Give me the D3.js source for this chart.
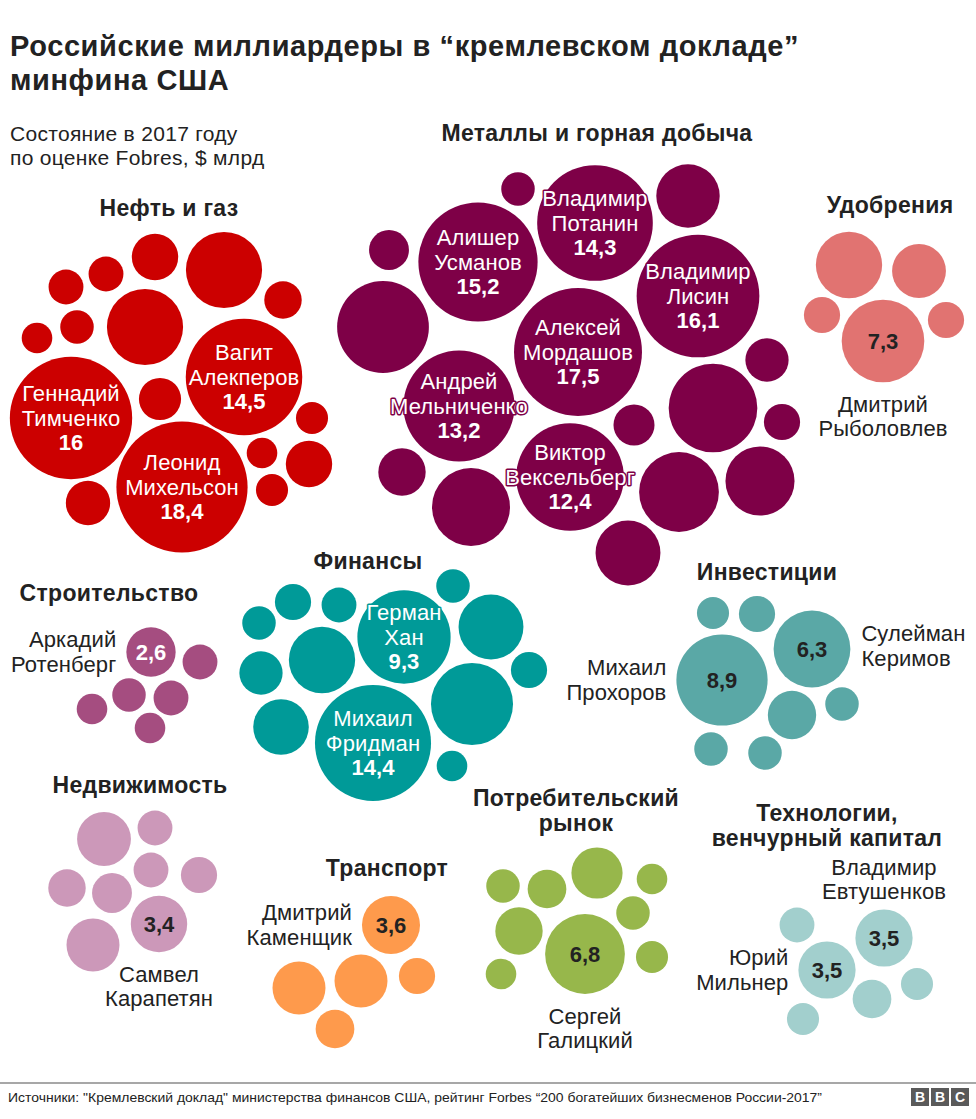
<!DOCTYPE html>
<html><head><meta charset="utf-8">
<script src="https://cdn.jsdelivr.net/npm/d3@7"></script>
<style>
body{margin:0;background:#fff;}
svg{display:block;font-family:"Liberation Sans",Arial,Helvetica,sans-serif;}
</style></head><body>
<svg id="chart" width="976" height="1119"></svg>
<script>
// ---------------- DATA ----------------
const titleLines = ["Российские миллиардеры в “кремлевском докладе”", "минфина США"];
const subtitleLines = ["Состояние в 2017 году", "по оценке Fobres, $ млрд"];
const sourceText = 'Источники: "Кремлевский доклад" министерства финансов США, рейтинг Forbes “200 богатейших бизнесменов России-2017”';

const sectorTitles = [
  ["Нефть и газ"], ["Металлы и горная добыча"], ["Удобрения"], ["Строительство"],
  ["Финансы"], ["Инвестиции"], ["Недвижимость"], ["Транспорт"],
  ["Потребительский", "рынок"], ["Технологии,", "венчурный капитал"]
];

// net worth, $ bn (unlabelled bubbles estimated from their size)
const oilGasNames = ["","","","","","","","","Вагит|Алекперов","Геннадий|Тимченко","","Леонид|Михельсон","","","","",""];
const oilGasWorth = [2.3, 6.2, 1.5, 1.3, 1.3, 1.2, 1.0, 6.2, 14.5, 16, 1.9, 18.4, 1.1, 1.0, 2.3, 1.1, 2.1];

const metalsNames = ["","Владимир|Потанин","","","Алишер|Усманов","","Владимир|Лисин","Алексей|Мордашов","Андрей|Мельниченко","","","","","","Виктор|Вексельберг","","","",""];
const metalsWorth = [1.2, 14.3, 4.3, 1.7, 15.2, 9.0, 16.1, 17.5, 13.2, 2.0, 8.4, 1.8, 1.4, 2.4, 12.4, 6.5, 6.8, 5.1, 4.5];

const fertilizerNames = ["","","","Дмитрий|Рыболовлев",""];
const fertilizerWorth = [4.7, 3.1, 1.4, 7.3, 1.4];

const constructionNames = ["Аркадий|Ротенберг","","","","",""];
const constructionWorth = [2.6, 1.3, 1.2, 1.3, 1.0, 1.0];

const financeNames = ["","","","","Герман|Хан","","","","","","","Михаил|Фридман",""];
const financeWorth = [1.2, 1.4, 1.3, 1.2, 9.3, 4.5, 4.7, 2.0, 1.4, 7.2, 3.3, 14.4, 1.0];

const investNames = ["","","Сулейман|Керимов","Михаил|Прохоров","","","",""];
const investWorth = [1.1, 1.4, 6.3, 8.9, 2.5, 1.2, 1.2, 1.2];

const realEstateNames = ["","","","","","","Самвел|Карапетян",""];
const realEstateWorth = [3.1, 1.3, 1.3, 1.4, 1.5, 1.7, 3.4, 3.0];

const transportNames = ["Дмитрий|Каменщик","","","",""];
const transportWorth = [3.6, 3.0, 3.0, 1.4, 1.6];

const consumerNames = ["","","","","","","Сергей|Галицкий","",""];
const consumerWorth = [1.2, 1.6, 2.8, 1.0, 1.2, 2.4, 6.8, 1.1, 1.0];

const techNames = ["","Владимир|Евтушенков","Юрий|Мильнер","","",""];
const techWorth = [1.3, 3.5, 3.5, 1.6, 1.1, 1.1];

// ---------------- LAYOUT & STYLE ----------------
// approximate anchor points for the hand-arranged clusters; final positions come from a force layout
const layout = [
  {names: oilGasNames, worth: oilGasWorth, color: "#cc0000", valueColor: "#fff", inside: true,
   title: [169, 208],
   hints: [[155,257],[224,270],[283,300],[106,274],[66,287],[77,327],[37,338],[145,327],[244,377],[71,418],[160,399],[182,487],[312,418],[262,453],[309,464],[272,490],[88,503]]},
  {names: metalsNames, worth: metalsWorth, color: "#7e0047", valueColor: "#fff", inside: true,
   title: [597, 133],
   hints: [[518,189],[595,223],[688,196],[389,250],[478,262],[383,327],[698,296],[578,352],[459,406],[767,360],[713,408],[634,425],[782,422],[402,472],[570,477],[471,507],[679,492],[760,481],[628,553]]},
  {names: fertilizerNames, worth: fertilizerWorth, color: "#e17371", valueColor: "#222", inside: false,
   title: [890, 205], sides: {3: "below"},
   hints: [[849,265],[919,271],[822,315],[883,341],[946,320]]},
  {names: constructionNames, worth: constructionWorth, color: "#a54d80", valueColor: "#fff", inside: false,
   title: [109, 593], sides: {0: "left"},
   hints: [[151,652],[200,662],[129,695],[171,698],[92,709],[150,728]]},
  {names: financeNames, worth: financeWorth, color: "#009a98", valueColor: "#fff", inside: true,
   title: [368, 561],
   hints: [[453,586],[293,602],[339,605],[259,623],[404,637],[491,627],[322,660],[261,673],[529,670],[472,704],[281,727],[373,743],[452,766]]},
  {names: investNames, worth: investWorth, color: "#5aa8a6", valueColor: "#222", inside: false,
   title: [767, 572], sides: {2: "right", 3: "left"},
   hints: [[713,613],[757,614],[812,649],[722,680],[792,715],[842,704],[711,749],[765,753]]},
  {names: realEstateNames, worth: realEstateWorth, color: "#cc98b9", valueColor: "#222", inside: false,
   title: [140, 785], sides: {6: "below"},
   hints: [[104,839],[155,828],[151,870],[199,875],[67,888],[112,893],[159,924],[93,945]]},
  {names: transportNames, worth: transportWorth, color: "#fe9a4c", valueColor: "#222", inside: false,
   title: [387, 868], sides: {0: "left"},
   hints: [[391,925],[299,988],[361,981],[417,976],[335,1029]]},
  {names: consumerNames, worth: consumerWorth, color: "#97b74b", valueColor: "#222", inside: false,
   title: [576, 798], sides: {6: "below"},
   hints: [[503,886],[547,889],[597,873],[652,879],[633,913],[519,931],[585,954],[652,957],[501,974]]},
  {names: techNames, worth: techWorth, color: "#a2cfcd", valueColor: "#222", inside: false,
   title: [827, 813], sides: {1: "above", 2: "left"},
   hints: [[797,925],[884,938],[827,970],[872,999],[917,984],[803,1019]]}
];

const ink = "#222";
const svg = d3.select("#chart");
const fmt = v => String(v).replace(".", ",");

// radius scale (area ~ net worth)
const allWorth = layout.flatMap(g => g.worth);
const rScale = d3.scaleSqrt().domain([0, d3.max(allWorth)]).range([0, 65.6]);

// nodes
const nodes = [];
layout.forEach((g, gi) => {
  g.worth.forEach((v, i) => {
    nodes.push({g: gi, i, value: v, name: g.names[i], r: rScale(v),
      hx: g.hints[i][0], hy: g.hints[i][1], x: g.hints[i][0], y: g.hints[i][1]});
  });
});

const sim = d3.forceSimulation(nodes)
  .force("x", d3.forceX(d => d.hx).strength(0.6))
  .force("y", d3.forceY(d => d.hy).strength(0.6))
  .force("collide", d3.forceCollide(d => d.r + 1.2).iterations(4))
  .stop();
for (let k = 0; k < 200; k++) sim.tick();

// ---------------- HEADER ----------------
svg.append("g").selectAll("text").data(titleLines).join("text")
  .attr("x", 10).attr("y", (d, i) => 56 + i * 34)
  .attr("font-size", 29).attr("letter-spacing", 0.6).attr("font-weight", "bold").attr("fill", ink).text(d => d);

svg.append("g").selectAll("text").data(subtitleLines).join("text")
  .attr("x", 10).attr("y", (d, i) => 141 + i * 24)
  .attr("font-size", 21).attr("letter-spacing", 0.3).attr("fill", ink).text(d => d);

// ---------------- SECTOR TITLES ----------------
layout.forEach((g, gi) => {
  svg.append("g").selectAll("text").data(sectorTitles[gi]).join("text")
    .attr("x", g.title[0]).attr("y", (d, i) => g.title[1] + i * 25)
    .attr("dy", "0.35em").attr("text-anchor", "middle")
    .attr("font-size", 23).attr("letter-spacing", 0.3).attr("font-weight", "bold").attr("fill", ink).text(d => d);
});

// ---------------- BUBBLES ----------------
svg.append("g").selectAll("circle").data(nodes).join("circle")
  .attr("cx", d => d.x).attr("cy", d => d.y).attr("r", d => d.r)
  .attr("fill", d => layout[d.g].color);

// ---------------- LABELS ----------------
const lh = 24.5;
const fs = 22;
const labelG = svg.append("g");
nodes.filter(d => d.name).forEach(d => {
  const g = layout[d.g];
  const lines = d.name.split("|");
  if (g.inside) {
    const all = lines.concat([fmt(d.value)]);
    const n = all.length;
    all.forEach((t, i) => {
      labelG.append("text")
        .attr("x", d.x).attr("y", d.y + (i - (n - 1) / 2) * lh).attr("dy", "0.35em")
        .attr("text-anchor", "middle").attr("font-size", fs).attr("letter-spacing", 0.1)
        .attr("font-weight", i === n - 1 ? "bold" : "normal")
        .attr("fill", "#fff").attr("stroke", g.color).attr("stroke-width", 3)
        .attr("stroke-linejoin", "round").attr("paint-order", "stroke")
        .text(t);
    });
  } else {
    labelG.append("text")
      .attr("x", d.x).attr("y", d.y).attr("dy", "0.35em")
      .attr("text-anchor", "middle").attr("font-size", fs).attr("font-weight", "bold")
      .attr("fill", g.valueColor).text(fmt(d.value));
    const side = g.sides[d.i];
    const n = lines.length;
    lines.forEach((t, i) => {
      let x, y, anchor;
      if (side === "left") { x = d.x - d.r - 10; y = d.y + (i - (n - 1) / 2) * lh; anchor = "end"; }
      else if (side === "right") { x = d.x + d.r + 11; y = d.y - 3 + (i - (n - 1) / 2) * lh; anchor = "start"; }
      else if (side === "below") { x = d.x; y = d.y + d.r + 22 + i * 24; anchor = "middle"; }
      else { x = d.x; y = d.y - d.r - 18 - (n - 1 - i) * 24; anchor = "middle"; }
      labelG.append("text").attr("x", x).attr("y", y).attr("dy", "0.35em")
        .attr("text-anchor", anchor).attr("font-size", fs).attr("letter-spacing", 0.1)
        .attr("fill", ink).text(t);
    });
  }
});

// ---------------- FOOTER ----------------
svg.append("line").attr("x1", 0).attr("x2", 976).attr("y1", 1083).attr("y2", 1083)
  .attr("stroke", "#8a8a8a").attr("stroke-width", 1.5);
svg.append("text").attr("x", 8).attr("y", 1102).attr("font-size", 13).attr("fill", ink)
  .attr("textLength", 814).attr("lengthAdjust", "spacingAndGlyphs").text(sourceText);
const bbc = svg.append("g");
["B", "B", "C"].forEach((ch, i) => {
  bbc.append("rect").attr("x", 911 + i * 20).attr("y", 1088).attr("width", 18).attr("height", 18).attr("fill", "#5a5a5a");
  bbc.append("text").attr("x", 920 + i * 20).attr("y", 1097).attr("dy", "0.36em").attr("text-anchor", "middle")
    .attr("font-size", 14).attr("font-weight", "bold").attr("fill", "#fff").text(ch);
});
</script>
</body></html>
